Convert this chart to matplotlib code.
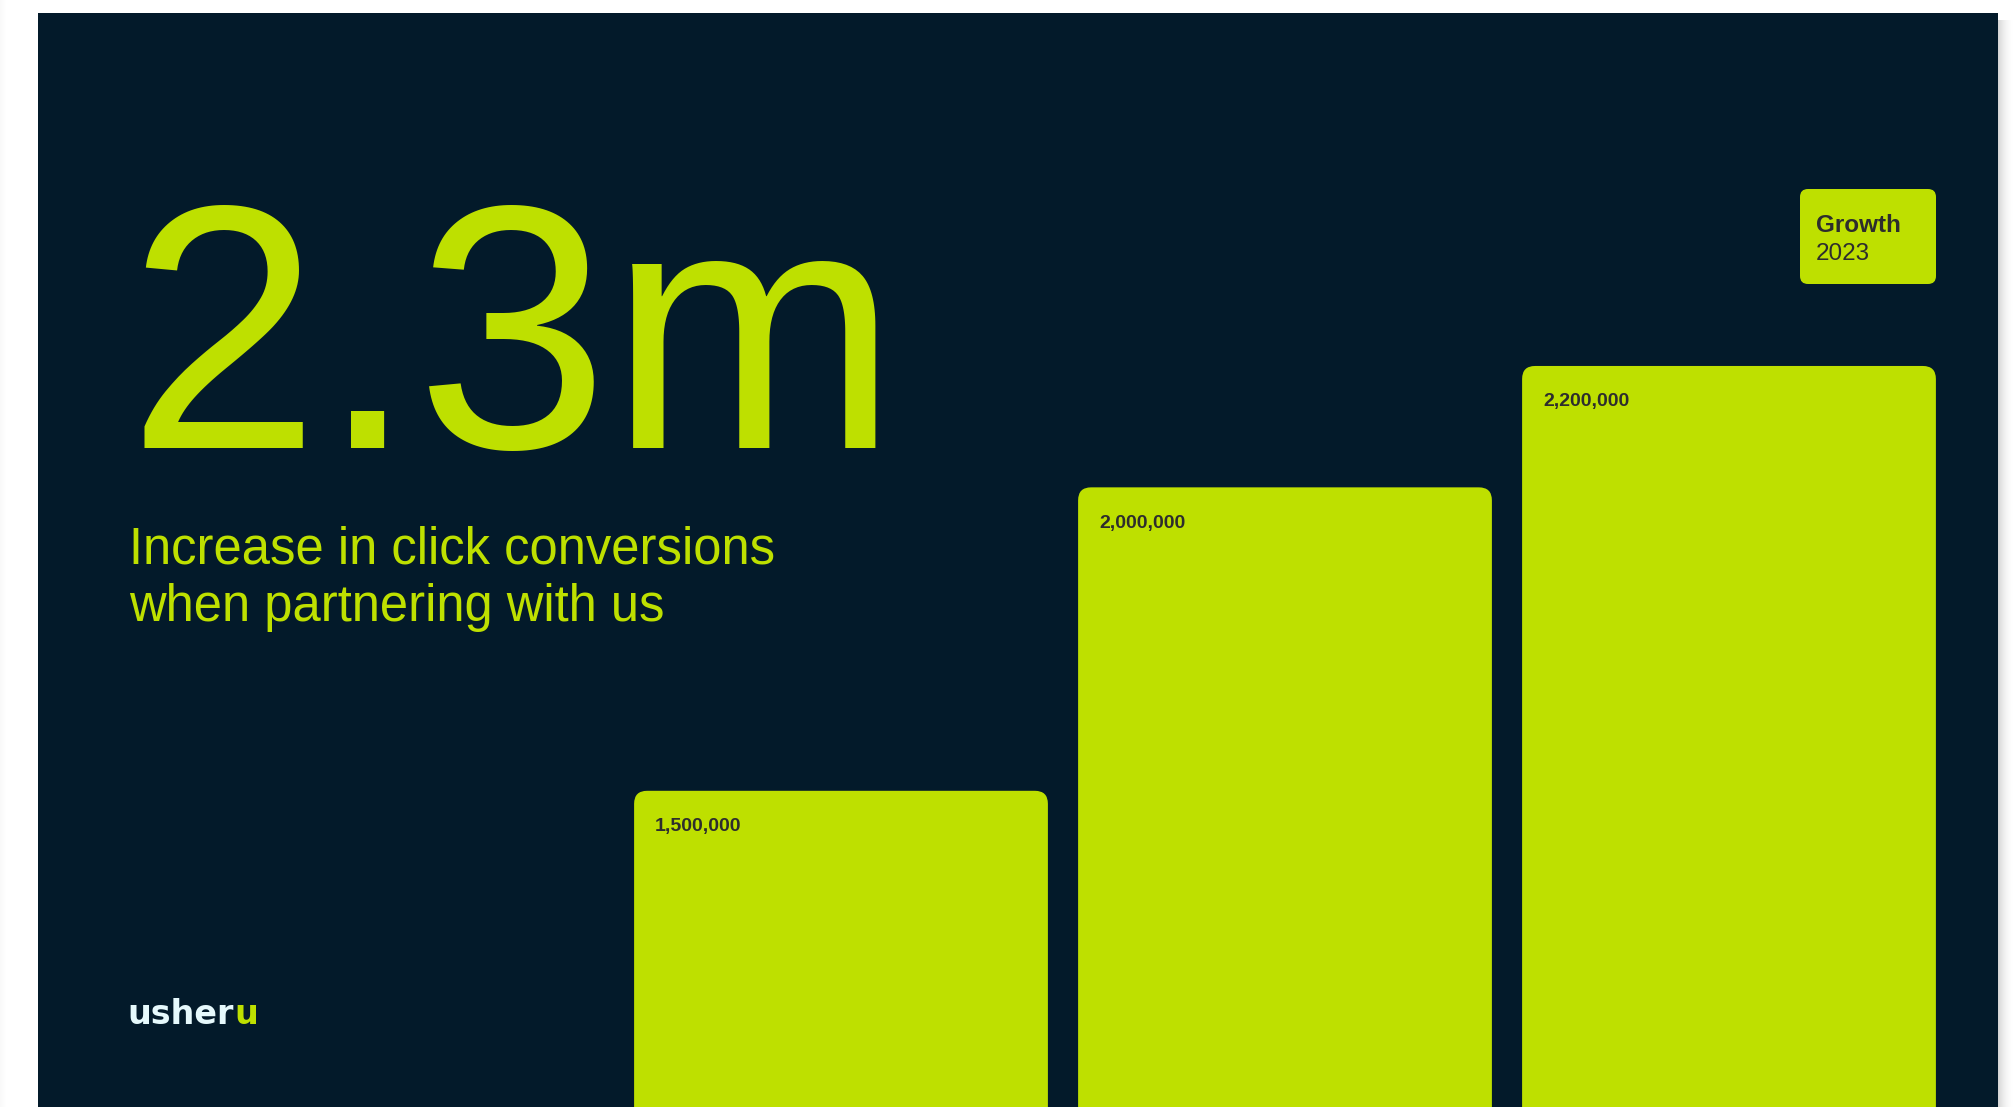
import matplotlib
matplotlib.use('Agg')
import matplotlib.pyplot as plt
from matplotlib.patches import FancyBboxPatch, Rectangle

# data
values = [1_500_000, 2_000_000, 2_200_000]
headline = '2.3m'
subtitle = ['Increase in click conversions', 'when partnering with us']
badge_title = 'Growth'
badge_year = '2023'
brand = 'usher'
brand_tail = 'u'

BG = '#031a2a'
LIME = '#bee000'
INK = '#2d2d2d'
LOGO = '#e6f9fc'

W, H = 2014, 1107
BAR_W = 0.932
Y_LO, Y_HI = 979_000, 2_803_000


def fx(x):
    return x / W


def fy(y):
    return 1 - y / H


def poster():
    fig = plt.figure(figsize=(W / 100, H / 100), dpi=100, facecolor='white')

    # dark panel + soft shadow on the right
    fig.add_artist(Rectangle((fx(38), 0), fx(1998) - fx(38), fy(13),
                             transform=fig.transFigure, fc=BG, ec='none', zorder=0))
    for k in range(16):
        fig.add_artist(Rectangle((fx(1998 + k), 0), fx(1), fy(20),
                                 transform=fig.transFigure, fc='black',
                                 alpha=0.16 * (1 - k / 16) ** 2, ec='none', zorder=0))
    for k in range(6):
        fig.add_artist(Rectangle((fx(k), 0), fx(1), 1, transform=fig.transFigure,
                                 fc='black', alpha=0.025 * (1 - k / 6), ec='none', zorder=0))

    # bars
    left_px, width_px = 619, 1332
    ax = fig.add_axes([fx(left_px), 0, width_px / W, 1])
    ax.set_xlim(-0.5, len(values) - 0.5)
    ax.set_ylim(Y_LO, Y_HI)
    ax.axis('off')
    ax.patch.set_alpha(0)

    x_per_px = len(values) / width_px
    y_per_px = (Y_HI - Y_LO) / H
    aspect = y_per_px / x_per_px
    r = 13 * x_per_px
    for i, v in enumerate(values):
        ax.add_patch(FancyBboxPatch((i - BAR_W / 2, 0), BAR_W, v,
                                    boxstyle=f'round,pad=0,rounding_size={r}',
                                    mutation_aspect=aspect, fc=LIME, ec='none'))
        ax.annotate(f'{v:,}', xy=(i - BAR_W / 2, v), xytext=(15, -29),
                    textcoords='offset points', ha='left', va='baseline',
                    fontsize=14, fontweight='bold', family='Liberation Sans', color=INK)

    # headline and subtitle
    fig.text(fx(126), fy(448), headline, fontsize=250, family='Liberation Sans',
             color=LIME, va='baseline', ha='left')
    fig.text(fx(129), fy(564), subtitle[0], fontsize=36.5, family='Liberation Sans',
             color=LIME, va='baseline', ha='left')
    fig.text(fx(129), fy(621), subtitle[1], fontsize=36.5, family='Liberation Sans',
             color=LIME, va='baseline', ha='left')

    # badge
    bx0, bx1, by0, by1 = 1800, 1936, 189, 284
    fig.add_artist(FancyBboxPatch((fx(bx0), fy(by1)), fx(bx1) - fx(bx0), fy(by0) - fy(by1),
                                  boxstyle=f'round,pad=0,rounding_size={8 / W}',
                                  mutation_aspect=W / H, transform=fig.transFigure,
                                  fc=LIME, ec='none'))
    fig.text(fx(1816), fy(232), badge_title, fontsize=17.5, fontweight='bold',
             family='Liberation Sans', color=INK, va='baseline')
    fig.text(fx(1816), fy(260), badge_year, fontsize=17.5,
             family='Liberation Sans', color=INK, va='baseline')

    # logo
    t = fig.text(fx(127), fy(1024), brand, fontsize=24, fontweight='bold',
                 family='DejaVu Sans', color=LOGO, va='baseline')
    ax.annotate(brand_tail, xy=(1, 0), xycoords=t, xytext=(1, 0),
                textcoords='offset points', ha='left', va='bottom',
                fontsize=24, fontweight='bold', family='DejaVu Sans', color=LIME)

    fig.savefig('out.png', dpi=100, facecolor='white')


if __name__ == '__main__':
    poster()
